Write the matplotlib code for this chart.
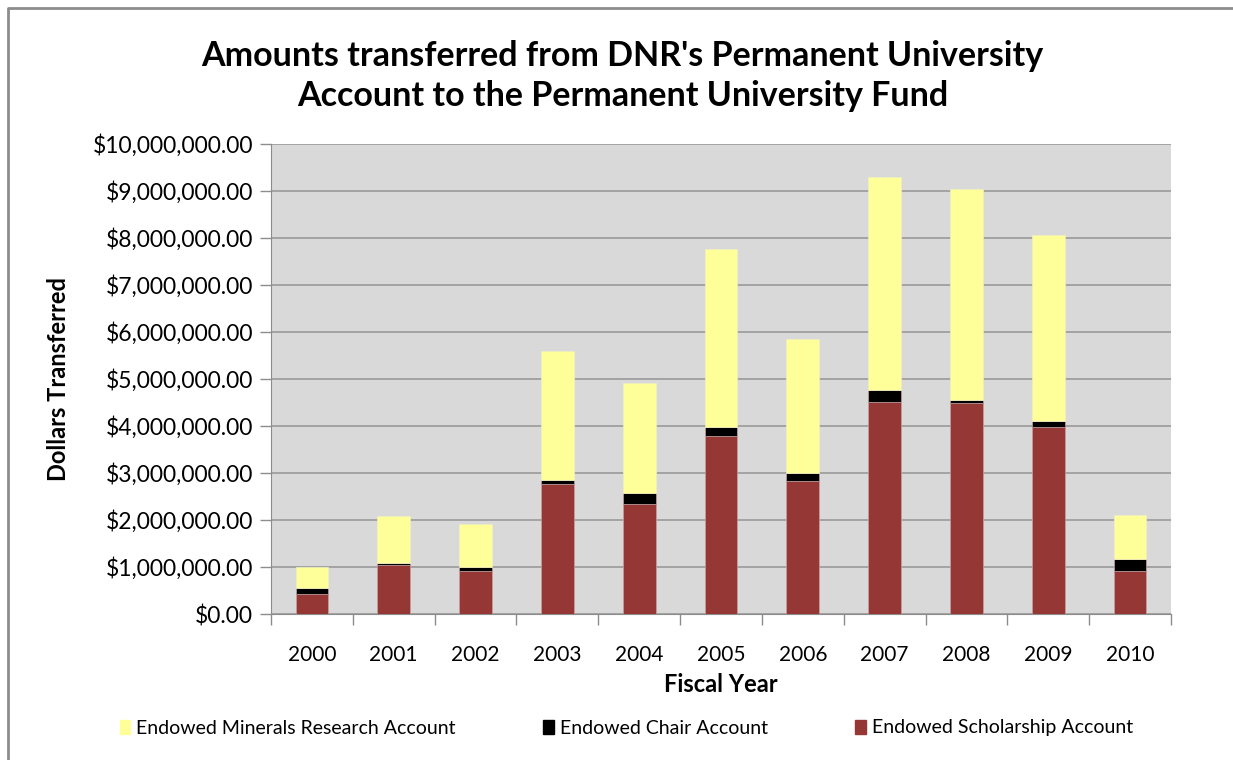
import numpy as np
import matplotlib
matplotlib.use("Agg")
import matplotlib.pyplot as plt
from matplotlib.lines import Line2D
from matplotlib.ticker import FuncFormatter, MultipleLocator

plt.rcParams["font.family"] = ["Lato", "DejaVu Sans"]

# ── Data (dollars) ────────────────────────────────────────────────────────────
years       = ["2000", "2001", "2002", "2003", "2004", "2005",
               "2006", "2007", "2008", "2009", "2010"]
scholarship = [430000, 1040000, 915000, 2770000, 2340000, 3780000,
               2820000, 4520000, 4490000, 3970000, 915000]
chair       = [130000, 45000, 75000, 80000, 240000, 190000,
               190000, 250000, 60000, 130000, 265000]
minerals    = [440000, 1005000, 930000, 2750000, 2340000, 3790000,
               2840000, 4520000, 4490000, 3960000, 930000]

C_SCHOL = "#953735"
C_CHAIR = "#000000"
C_MIN   = "#FFFF99"

fig = plt.figure(figsize=(12.33, 7.6), dpi=100)
fig.patch.set_facecolor("white")
ax = fig.add_axes([271 / 1233, 1 - 614 / 760, 900 / 1233, 470 / 760])
ax.set_facecolor("#D9D9D9")

x = np.arange(len(years))
sch = np.array(scholarship)
ch = np.array(chair)
mn = np.array(minerals)
w = 0.4
ax.bar(x, sch, w, color=C_SCHOL, edgecolor="#C8A0A0", linewidth=0.5, zorder=3)
ax.bar(x, ch, w, bottom=sch, color=C_CHAIR, edgecolor="#C8A0A0", linewidth=0.5, zorder=3)
ax.bar(x, mn, w, bottom=sch + ch, color=C_MIN, edgecolor="#F0F0C0", linewidth=0.5, zorder=3)

ax.set_xlim(-0.5, len(years) - 0.5)
ax.set_ylim(0, 10_000_000)
ax.yaxis.set_major_locator(MultipleLocator(1_000_000))
ax.yaxis.set_major_formatter(FuncFormatter(lambda v, p: f"${v:,.2f}"))
ax.grid(axis="y", color="#9A9A9A", linewidth=1.2, zorder=1)
ax.set_axisbelow(True)

ax.set_xticks(x)
ax.set_xticklabels(years)
ax.set_xticks(np.arange(len(years) + 1) - 0.5, minor=True)
ax.tick_params(axis="x", which="major", length=0, pad=22, labelsize=15)
ax.tick_params(axis="x", which="minor", length=8, color="#8C8C8C", width=1)
ax.tick_params(axis="y", length=8, color="#8C8C8C", width=1, labelsize=16.5, pad=5)

for s in ("top", "right"):
    ax.spines[s].set_visible(False)
ax.spines["left"].set_color("#8C8C8C")
ax.spines["bottom"].set_color("#8C8C8C")

ax.set_ylabel("Dollars Transferred", fontsize=17, fontweight="bold", labelpad=16)
ax.set_xlabel("Fiscal Year", fontsize=17, fontweight="bold", labelpad=6)

fig.text(0.505, 1 - 76 / 760,
         "Amounts transferred from DNR's Permanent University\n"
         "Account to the Permanent University Fund",
         ha="center", va="center", fontsize=24.5, fontweight="bold",
         linespacing=1.3)

handles = [plt.Rectangle((0, 0), 1, 1, color=C_MIN),
           plt.Rectangle((0, 0), 1, 1, color=C_CHAIR),
           plt.Rectangle((0, 0), 1, 1, color=C_SCHOL)]
fig.legend(handles,
           ["Endowed Minerals Research Account", "Endowed Chair Account",
            "Endowed Scholarship Account"],
           loc="center", bbox_to_anchor=(0.508, 1 - 728 / 760), ncol=3,
           frameon=False, fontsize=14, handlelength=0.55, handleheight=0.7,
           handletextpad=0.3, columnspacing=4.5)

# outer chart border (left and top edges only visible)
fig.add_artist(Line2D([8 / 1233, 8 / 1233, 1.0], [0.0, 1 - 8 / 760, 1 - 8 / 760],
                      transform=fig.transFigure, color="#8C8C8C", linewidth=2))

fig.savefig("out.png", dpi=100, facecolor="white")
